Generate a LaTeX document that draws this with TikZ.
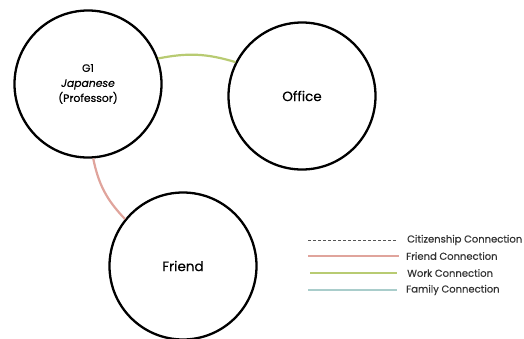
\documentclass[tikz,border=0pt]{standalone}
\usepackage{fontspec}
\setmainfont{Poppins}[FakeBold=0.4, BoldFont={Poppins}, BoldFeatures={FakeBold=1}]
\definecolor{friendc}{HTML}{E0A49C}
\definecolor{workc}{HTML}{B8CB72}
\definecolor{familyc}{HTML}{A9CDCB}
\definecolor{citic}{HTML}{555555}
\tikzset{
  bigcircle/.style={circle, draw=black, line width=2.3pt, minimum size=147pt, inner sep=0pt, font=\fontsize{13.5}{15}\selectfont},
  conn/.style={line width=2.2pt},
  legline/.style={line width=1.6pt},
  legtext/.style={anchor=west, inner sep=0pt, font=\fontsize{10}{11}\selectfont, text=black!80}
}
\begin{document}
\begin{tikzpicture}[x=1pt,y=-1pt]
\useasboundingbox (0,0) rectangle (524,338);
\node[bigcircle, align=center, font=\fontsize{10.8}{15}\selectfont] (g1) at (88,84) {G1\\\textit{Japanese}\\(Professor)};
\node[bigcircle] (office) at (302,96) {Office};
\node[bigcircle] (friend) at (183,266) {Friend};
\draw[conn, workc] (g1.20) to[bend left=14] (office.153);
\draw[conn, friendc] (g1.274) to[bend right=16] (friend.141);
% legend
\coordinate (c1) at (308,240); \coordinate (c2) at (396,240);
\coordinate (f1) at (308,256); \coordinate (f2) at (399,256);
\coordinate (w1) at (310,273); \coordinate (w2) at (397,273);
\coordinate (m1) at (308,290); \coordinate (m2) at (397,290);
\draw[line width=1pt, citic, dash pattern=on 2.5pt off 2.5pt] (c1) -- (c2);
\draw[legline, friendc] (f1) -- (f2);
\draw[legline, workc] (w1) -- (w2);
\draw[legline, familyc] (m1) -- (m2);
\node[legtext] (lc) at (407,240) {Citizenship Connection};
\node[legtext] (lf) at (406,256) {Friend Connection};
\node[legtext] (lw) at (407,273) {Work Connection};
\node[legtext] (lm) at (406,290) {Family Connection};
\end{tikzpicture}
\end{document}
